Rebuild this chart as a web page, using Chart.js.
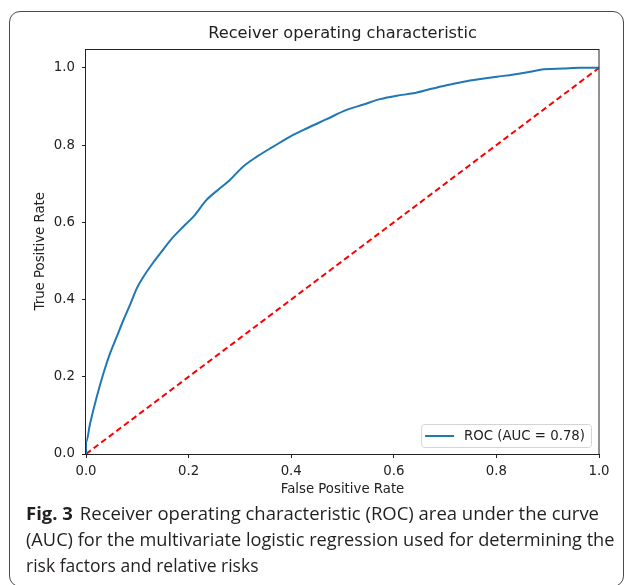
<!DOCTYPE html>
<html>
<head>
<meta charset="utf-8">
<script src="https://cdn.jsdelivr.net/npm/chart.js@4.4.1/dist/chart.umd.min.js"></script>
<style>
  html, body { margin:0; padding:0; background:#fff; }
  body { width:627px; height:585px; overflow:hidden; position:relative; }
  #frame { position:absolute; left:9px; top:11px; width:615px; height:576px;
           border:1.5px solid #4a4a4a; border-radius:11px; box-sizing:border-box; }
  #wrap { position:absolute; left:0; top:0; width:627px; height:504px; }
  .cap { position:absolute; left:26px; white-space:nowrap; font-family:"Open Sans", "Noto Sans", sans-serif;
         font-size:18.5px; line-height:1; color:#231f20; transform-origin:0 0; }
  .cap b { font-weight:700; margin-right:7px; }
</style>
</head>
<body>
<div id="frame"></div>
<div id="wrap"><canvas id="c" width="627" height="504"></canvas></div>
<div class="cap" id="l1" style="top:503.6px"><b>Fig. 3</b>Receiver operating characteristic (ROC) area under the curve</div>
<div class="cap" id="l2" style="top:530px">(AUC) for the multivariate logistic regression used for determining the</div>
<div class="cap" id="l3" style="top:555.6px">risk factors and relative risks</div>
<script>
// ---- data ----
const fpr = [0, 0, 0.008, 0.021, 0.034, 0.047, 0.060, 0.073, 0.087, 0.099, 0.112, 0.129, 0.145, 0.166, 0.189, 0.209, 0.235, 0.261, 0.280, 0.306, 0.333, 0.365, 0.398, 0.430, 0.469, 0.508, 0.541, 0.573, 0.606, 0.638, 0.671, 0.703, 0.736, 0.769, 0.801, 0.834, 0.866, 0.886, 0.931, 0.964, 1.0];
const tpr = [0, 0.03, 0.079, 0.148, 0.209, 0.261, 0.304, 0.347, 0.390, 0.429, 0.459, 0.492, 0.520, 0.556, 0.588, 0.614, 0.658, 0.688, 0.709, 0.744, 0.770, 0.796, 0.822, 0.843, 0.867, 0.891, 0.905, 0.919, 0.928, 0.934, 0.945, 0.955, 0.964, 0.971, 0.977, 0.983, 0.990, 0.995, 0.998, 1.0, 1.0];
const chanceX = [0, 1];
const chanceY = [0, 1];
const xTicks = [0, 0.2, 0.4, 0.6, 0.8, 1.0];
const yTicks = [0, 0.2, 0.4, 0.6, 0.8, 1.0];
const rocLabel = 'ROC (AUC = 0.78)';
const titleText = 'Receiver operating characteristic';
const xTitle = 'False Positive Rate';
const yTitle = 'True Positive Rate';

const FONT = '"DejaVu Sans", sans-serif';
const TXT = '#222';
const FS = 13.3;

const frameAndLegend = {
  id: 'frameAndLegend',
  afterDraw(chart) {
    const {ctx, chartArea: a} = chart;
    ctx.save();
    // spines
    ctx.strokeStyle = '#222';
    ctx.lineWidth = 1;
    ctx.strokeRect(Math.round(a.left) - 0.5, Math.round(a.top) + 0.5,
                   Math.round(a.right) - Math.round(a.left) + 0.5, Math.round(a.bottom) - Math.round(a.top));
    // legend
    const ds = chart.data.datasets[0];
    ctx.font = FS + 'px ' + FONT;
    const tw = ctx.measureText(ds.label).width;
    const w = 4 + 29 + 10 + tw + 6, h = 23;
    const x = a.right - 8 - w, y = a.bottom - 7 - h;
    ctx.beginPath();
    ctx.roundRect(x + 0.5, y + 0.5, w, h, 3);
    ctx.fillStyle = 'rgba(255,255,255,0.85)';
    ctx.fill();
    ctx.strokeStyle = '#d4d4d4';
    ctx.lineWidth = 1;
    ctx.stroke();
    ctx.beginPath();
    ctx.strokeStyle = ds.borderColor;
    ctx.lineWidth = 2;
    ctx.moveTo(x + 4, y + h / 2 + 0.5);
    ctx.lineTo(x + 33, y + h / 2 + 0.5);
    ctx.stroke();
    ctx.fillStyle = TXT;
    ctx.textBaseline = 'middle';
    ctx.textAlign = 'left';
    ctx.fillText(ds.label, x + 43, y + h / 2 + 1);
    ctx.restore();
  }
};

new Chart(document.getElementById('c'), {
  type: 'line',
  data: {
    datasets: [
      { label: rocLabel, data: fpr.map((v, i) => ({x: v, y: tpr[i]})),
        borderColor: '#1f77b4', borderWidth: 2, pointRadius: 0, cubicInterpolationMode: 'monotone', fill: false },
      { label: 'chance', data: chanceX.map((v, i) => ({x: v, y: chanceY[i]})),
        borderColor: '#ff0000', borderWidth: 2, borderDash: [6, 3.5], pointRadius: 0, tension: 0, fill: false }
    ]
  },
  options: {
    responsive: false,
    animation: false,
    devicePixelRatio: 1,
    layout: { padding: { top: 15, left: 0, right: 28, bottom: 0 } },
    plugins: {
      legend: { display: false },
      tooltip: { enabled: false },
      title: { display: true, fullSize: false, text: titleText, color: TXT,
               font: { family: FONT, size: 16.2, weight: 'normal', lineHeight: 1.2 },
               padding: { top: 8.6, bottom: 5.5 } }
    },
    scales: {
      x: {
        type: 'linear', min: 0, max: 1,
        afterBuildTicks: s => { s.ticks = xTicks.map(v => ({value: v})); },
        afterFit: s => { s.height = 50; },
        grid: { drawOnChartArea: false, drawTicks: true, tickLength: 4, tickColor: '#222', tickWidth: 1 },
        border: { display: false },
        ticks: { color: TXT, padding: 5.5, font: { family: FONT, size: FS }, maxRotation: 0,
                 callback: v => v.toFixed(1) },
        title: { display: true, text: xTitle, color: TXT, font: { family: FONT, size: FS },
                 padding: { top: 0, bottom: 6 } }
      },
      y: {
        type: 'linear', min: 0, max: 1.05,
        afterBuildTicks: s => { s.ticks = yTicks.map(v => ({value: v})); },
        afterFit: s => { s.width = 86; },
        grid: { drawOnChartArea: false, drawTicks: true, tickLength: 4, tickColor: '#222', tickWidth: 1 },
        border: { display: false },
        ticks: { color: TXT, padding: 7, font: { family: FONT, size: FS },
                 callback: v => v.toFixed(1) },
        title: { display: true, text: yTitle, color: TXT, font: { family: FONT, size: FS },
                 padding: { top: 33, bottom: 0 } }
      }
    }
  },
  plugins: [frameAndLegend]
});

// fit caption lines to the reference's line extents
function fitCaption() {
  const targets = { l1: 573, l2: 588.5, l3: 232.5 };
  for (const id in targets) {
    const el = document.getElementById(id);
    el.style.transform = 'none';
    const w = el.getBoundingClientRect().width;
    el.style.transform = 'scaleX(' + (targets[id] / w) + ')';
  }
}
fitCaption();
if (document.fonts && document.fonts.ready) document.fonts.ready.then(fitCaption);
</script>
</body>
</html>
